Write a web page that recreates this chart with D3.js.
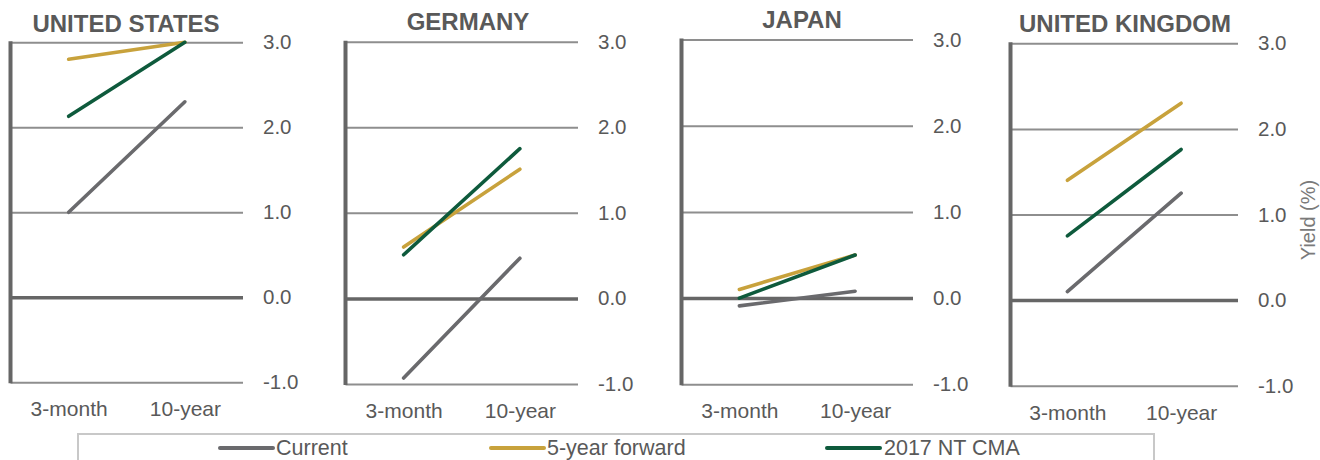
<!DOCTYPE html>
<html>
<head>
<meta charset="utf-8">
<script src="https://cdn.jsdelivr.net/npm/d3@7"></script>
<style>
  html, body { margin: 0; padding: 0; background: #fff; }
  svg { display: block; font-family: "Liberation Sans", Arial, sans-serif; }
</style>
</head>
<body>
<svg id="chart" width="1320" height="460"></svg>
<script>
// Yield curve panels: current yields vs. 5-year forward and 2017 NT CMA
const categories = ["3-month", "10-year"];
const countries = ["UNITED STATES", "GERMANY", "JAPAN", "UNITED KINGDOM"];
const yTicks = [-1, 0, 1, 2, 3];

// values per country: [3-month, 10-year]
const current   = [[1.00, 2.30], [-0.93, 0.47], [-0.09, 0.08], [0.10, 1.25]];
const forward5y = [[2.80, 3.00], [0.60, 1.51], [0.10, 0.50], [1.40, 2.30]];
const cma2017   = [[2.13, 3.00], [0.51, 1.75], [0.00, 0.50], [0.75, 1.76]];

const seriesNames = ["Current", "5-year forward", "2017 NT CMA"];
const seriesData = [current, forward5y, cma2017];
const seriesColors = ["#6a6a6d", "#c8a23c", "#0e5a3c"];

// panel frames
const panels = [
  { x0: 10.5,   x1: 243,  yTop: 42.3, yBot: 382.3, titleX: 126,  titleY: 31.5 },
  { x0: 345.5,  x1: 578,  yTop: 41.7, yBot: 384.0, titleX: 468,  titleY: 30   },
  { x0: 681.5,  x1: 913,  yTop: 39.5, yBot: 384.3, titleX: 802,  titleY: 27.5 },
  { x0: 1010.5, x1: 1238, yTop: 43.3, yBot: 385.7, titleX: 1125, titleY: 32   }
];

const textColor = "#595959";
const fmt = d => d3.format(".1f")(d).replace("\u2212", "-");
const svg = d3.select("#chart");

panels.forEach((p, i) => {
  const g = svg.append("g");
  const x = d3.scalePoint().domain(categories).range([p.x0, p.x1]).padding(0.5);
  const y = d3.scaleLinear().domain([-1, 3]).range([p.yBot, p.yTop]);

  // gridlines + right-hand tick labels
  const yAxis = g.append("g")
    .attr("transform", `translate(${p.x1},0)`)
    .call(d3.axisRight(y).tickValues(yTicks).tickFormat(fmt)
      .tickSize(-(p.x1 - p.x0)).tickPadding(20));
  yAxis.select(".domain").remove();
  yAxis.selectAll(".tick line")
    .attr("stroke", d => d === 0 ? "#666666" : "#8e8e8e")
    .attr("stroke-width", d => d === 0 ? 3.5 : 2);
  yAxis.selectAll(".tick text")
    .attr("fill", textColor).attr("font-size", 20.5).attr("font-family", "Liberation Sans, Arial, sans-serif");

  // vertical left axis line
  g.append("line")
    .attr("x1", p.x0).attr("x2", p.x0)
    .attr("y1", y(3) - 1).attr("y2", y(-1) + 1)
    .attr("stroke", "#666666").attr("stroke-width", 4);

  // category labels
  const xAxis = g.append("g")
    .attr("transform", `translate(0,${p.yBot})`)
    .call(d3.axisBottom(x).tickSize(0).tickPadding(19));
  xAxis.select(".domain").remove();
  xAxis.selectAll(".tick text")
    .attr("fill", textColor).attr("font-size", 21).attr("font-family", "Liberation Sans, Arial, sans-serif");

  // title
  g.append("text")
    .attr("x", p.titleX).attr("y", p.titleY)
    .attr("text-anchor", "middle")
    .attr("font-size", 24).attr("font-weight", "bold")
    .attr("fill", textColor)
    .text(countries[i]);

  // series lines
  const line = d3.line().x((d, k) => x(categories[k])).y(d => y(d));
  seriesData.forEach((s, k) => {
    g.append("path")
      .datum(s[i])
      .attr("d", line)
      .attr("fill", "none")
      .attr("stroke", seriesColors[k])
      .attr("stroke-width", 3.6)
      .attr("stroke-linecap", "round");
  });
});

// y-axis title on the far right
svg.append("text")
  .attr("transform", "translate(1315,220) rotate(-90)")
  .attr("text-anchor", "middle")
  .attr("font-size", 20)
  .attr("fill", "#7a7a7a")
  .text("Yield (%)");

// legend
const legend = svg.append("g");
legend.append("rect")
  .attr("x", 78).attr("y", 434)
  .attr("width", 1076).attr("height", 40)
  .attr("fill", "none").attr("stroke", "#c8c8c8").attr("stroke-width", 2);

const legendItems = [
  { lx: 220, tx: 276 },
  { lx: 491, tx: 547 },
  { lx: 827, tx: 884 }
];
legendItems.forEach((it, k) => {
  legend.append("line")
    .attr("x1", it.lx).attr("x2", it.lx + 53)
    .attr("y1", 448).attr("y2", 448)
    .attr("stroke", seriesColors[k]).attr("stroke-width", 4)
    .attr("stroke-linecap", "round");
  legend.append("text")
    .attr("x", it.tx).attr("y", 455)
    .attr("font-size", 21.5).attr("fill", textColor)
    .text(seriesNames[k]);
});
</script>
</body>
</html>
